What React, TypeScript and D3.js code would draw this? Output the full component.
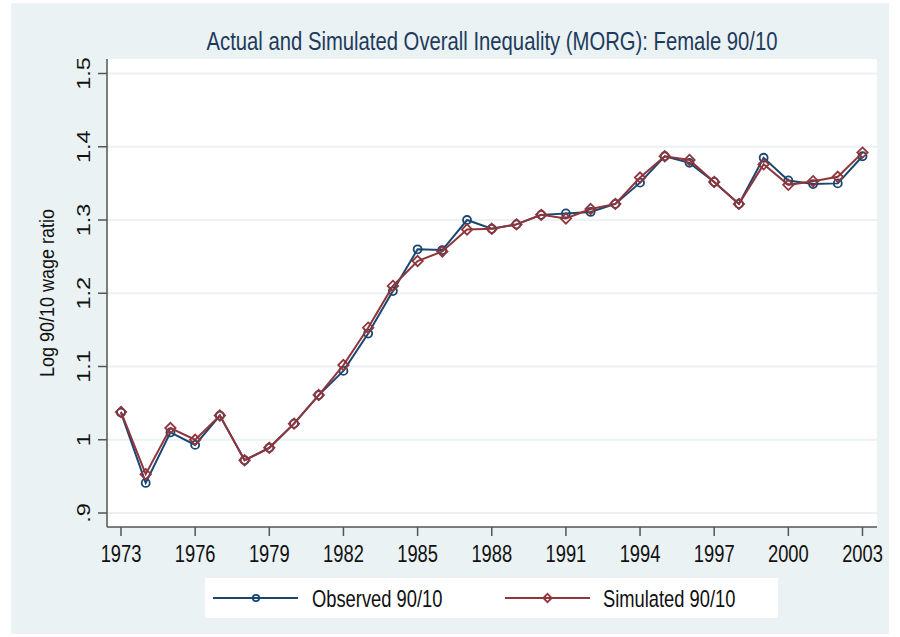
import React from "react";
import * as d3 from "d3";

const years = d3.range(1973, 2004);
// Log 90/10 wage ratio
const observed = [1.037, 0.941, 1.010, 0.993, 1.033, 0.972, 0.989, 1.022, 1.061, 1.094,
  1.145, 1.203, 1.260, 1.259, 1.300, 1.288, 1.294, 1.307, 1.309, 1.311,
  1.322, 1.351, 1.387, 1.378, 1.352, 1.322, 1.385, 1.354, 1.349, 1.350, 1.387];
const simulated = [1.038, 0.953, 1.016, 1.000, 1.033, 0.972, 0.989, 1.022, 1.061, 1.102,
  1.153, 1.210, 1.244, 1.257, 1.287, 1.288, 1.294, 1.307, 1.302, 1.315,
  1.322, 1.358, 1.387, 1.382, 1.352, 1.322, 1.376, 1.348, 1.353, 1.359, 1.392];
const xTicks = [1973, 1976, 1979, 1982, 1985, 1988, 1991, 1994, 1997, 2000, 2003];
const yTicks = [0.9, 1.0, 1.1, 1.2, 1.3, 1.4, 1.5];
const yTickLabels = [".9", "1", "1.1", "1.2", "1.3", "1.4", "1.5"];

// the picture looks squashed sideways, so text is narrowed on screen x
const font = "'Liberation Sans', Arial, sans-serif";
const sx = 0.78;
const navy = "#1a476f";
const maroon = "#90353b";
const grid = "#eaf2f3";

export default function App() {
  const W = 900, H = 637;
  const plot = { left: 107, right: 877, top: 59, bottom: 527 };

  const x = d3.scaleLinear().domain([1973, 2003]).range([121, 862.5]);
  const y = d3.scaleLinear().domain([0.9, 1.5]).range([513, 73.5]);

  const obsLine = d3.line<number>().x((d, i) => x(years[i])).y((d) => y(d))(observed) || "";
  const simLine = d3.line<number>().x((d, i) => x(years[i])).y((d) => y(d))(simulated) || "";

  const diamond = (cx: number, cy: number, r: number) =>
    `M${cx},${cy - r}L${cx + r},${cy}L${cx},${cy + r}L${cx - r},${cy}Z`;

  return (
    <svg width={W} height={H} style={{ display: "block", position: "absolute", left: 0, top: 0 }}>
      <rect x={0} y={0} width={W} height={H} fill="#ffffff" />
      <rect x={11} y={3} width={878} height={631} fill={grid} />

      {/* title */}
      <text transform={`translate(${(plot.left + plot.right) / 2},50) scale(${sx},1)`} textAnchor="middle"
        fontFamily={font} fontSize={26} fill="#1e3a5c">
        Actual and Simulated Overall Inequality (MORG): Female 90/10
      </text>

      {/* plot region */}
      <rect x={plot.left} y={plot.top} width={plot.right - plot.left} height={plot.bottom - plot.top} fill="#ffffff" />

      {/* gridlines */}
      {yTicks.map((t) => (
        <line key={"g" + t} x1={plot.left} x2={plot.right} y1={y(t)} y2={y(t)} stroke={grid} strokeWidth={2} />
      ))}

      {/* y axis */}
      <line x1={plot.left} x2={plot.left} y1={plot.top} y2={plot.bottom} stroke="#555" strokeWidth={1.5} />
      {yTicks.map((t, i) => (
        <g key={"y" + t}>
          <line x1={plot.left - 9} x2={plot.left} y1={y(t)} y2={y(t)} stroke="#555" strokeWidth={1.5} />
          <text transform={`translate(89.5,${y(t)}) scale(${sx},1) rotate(-90)`} textAnchor="middle"
            fontFamily={font} fontSize={23.5} fill="#111">
            {yTickLabels[i]}
          </text>
        </g>
      ))}
      <text transform={`translate(53.5,${(plot.top + plot.bottom) / 2}) rotate(-90) scale(0.9,1)`} textAnchor="middle"
        fontFamily={font} fontSize={20} fill="#111">
        Log 90/10 wage ratio
      </text>

      {/* x axis */}
      <line x1={plot.left} x2={plot.right} y1={plot.bottom} y2={plot.bottom} stroke="#555" strokeWidth={1.5} />
      {xTicks.map((t) => (
        <g key={"x" + t}>
          <line x1={x(t)} x2={x(t)} y1={plot.bottom} y2={plot.bottom + 9} stroke="#555" strokeWidth={1.5} />
          <text transform={`translate(${x(t)},562) scale(${sx},1)`} textAnchor="middle"
            fontFamily={font} fontSize={23.5} fill="#111">
            {t}
          </text>
        </g>
      ))}

      {/* series */}
      <path d={obsLine} fill="none" stroke={navy} strokeWidth={2} />
      {observed.map((v, i) => (
        <circle key={"o" + i} cx={x(years[i])} cy={y(v)} r={4} fill="none" stroke={navy} strokeWidth={1.8} />
      ))}
      <path d={simLine} fill="none" stroke={maroon} strokeWidth={2} />
      {simulated.map((v, i) => (
        <path key={"s" + i} d={diamond(x(years[i]), y(v), 5.2)} fill="none" stroke={maroon} strokeWidth={1.8} />
      ))}

      {/* legend */}
      <rect x={205} y={578} width={573} height={40} fill="#ffffff" />
      <line x1={213} x2={298} y1={598} y2={598} stroke={navy} strokeWidth={2} />
      <circle cx={256} cy={598} r={3.2} fill="none" stroke={navy} strokeWidth={1.8} />
      <text transform={`translate(312,606.5) scale(${sx},1)`} fontFamily={font} fontSize={23.5} fill="#111">
        Observed 90/10
      </text>
      <line x1={505} x2={590} y1={598} y2={598} stroke={maroon} strokeWidth={2} />
      <path d={diamond(547.5, 598, 4.2)} fill="none" stroke={maroon} strokeWidth={1.8} />
      <text transform={`translate(603,606.5) scale(${sx},1)`} fontFamily={font} fontSize={23.5} fill="#111">
        Simulated 90/10
      </text>
    </svg>
  );
}
